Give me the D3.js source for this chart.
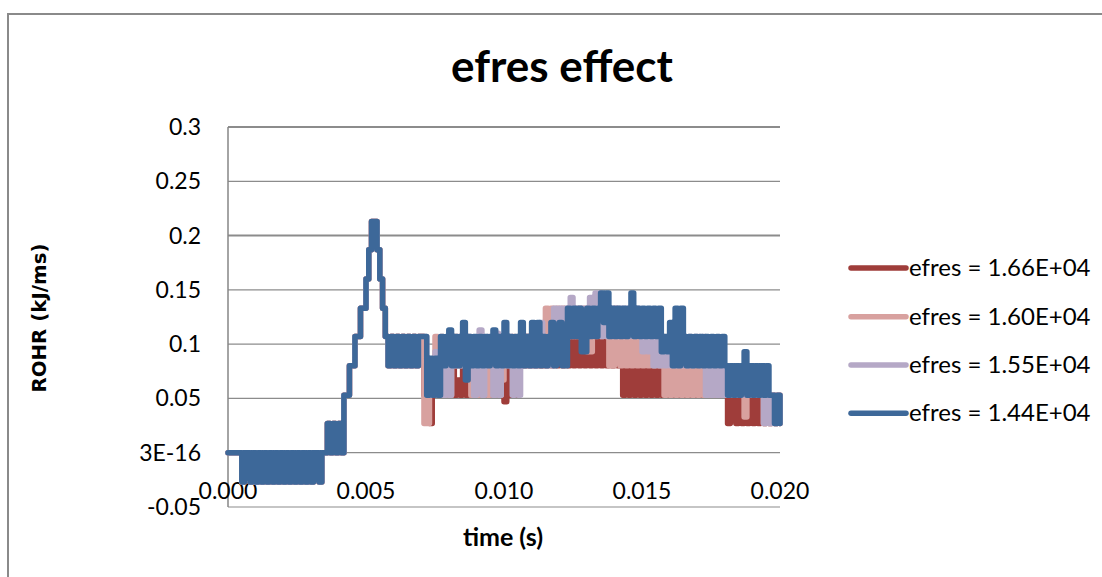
<!DOCTYPE html>
<html>
<head>
<meta charset="utf-8">
<script src="https://cdn.jsdelivr.net/npm/d3@7"></script>
<style>
  html, body { margin: 0; padding: 0; background: #ffffff; }
  svg { display: block; }
  text { font-family: Lato, "Open Sans", sans-serif; fill: #000; }
</style>
</head>
<body>
<svg id="chart" width="1102" height="577"></svg>
<script>
// Rate of heat release sampled every 0.1 ms (201 samples, 0 .. 0.020 s), kJ/ms
const timeStep = 0.0001;

const seriesNames = ["efres = 1.66E+04", "efres = 1.60E+04", "efres = 1.55E+04", "efres = 1.44E+04"];
const seriesColors = ["#9f3d3a", "#d8a19f", "#b5a8c6", "#3d6899"];

// common start (ignition and peak), identical for every run up to 6.9 ms
const rohrStart = [
  0, 0, 0, 0, 0, -0.027, 0, 0, -0.027, 0,
  -0.027, 0, -0.027, 0, -0.027, 0, -0.027, 0, -0.027, 0,
  -0.027, 0, -0.027, 0, -0.027, 0, -0.027, 0, -0.027, 0,
  -0.027, 0, 0, -0.027, 0, 0, 0.027, 0, 0.027, 0,
  0.027, 0, 0.053, 0.053, 0.08, 0.08, 0.107, 0.107, 0.133, 0.133,
  0.16, 0.187, 0.213, 0.213, 0.187, 0.16, 0.133, 0.107, 0.08, 0.107,
  0.08, 0.107, 0.08, 0.107, 0.08, 0.107, 0.08, 0.107, 0.08, 0.107
];

// 7.0 ms .. 20.0 ms
const rohr166 = [
  0.107, 0.053, 0.053, 0.027, 0.053, 0.08, 0.053, 0.08, 0.053, 0.08,
  0.053, 0.08, 0.053, 0.067, 0.053, 0.08, 0.053, 0.08, 0.053, 0.08,
  0.053, 0.08, 0.053, 0.08, 0.053, 0.08, 0.053, 0.08, 0.053, 0.08,
  0.047, 0.08, 0.053, 0.08, 0.053, 0.08, 0.107, 0.08, 0.107, 0.08,
  0.107, 0.08, 0.107, 0.08, 0.107, 0.08, 0.107, 0.08, 0.107, 0.08,
  0.093, 0.08, 0.107, 0.08, 0.107, 0.08, 0.107, 0.08, 0.107, 0.08,
  0.107, 0.08, 0.107, 0.08, 0.107, 0.08, 0.107, 0.08, 0.107, 0.08,
  0.107, 0.08, 0.107, 0.053, 0.08, 0.053, 0.08, 0.053, 0.08, 0.053,
  0.08, 0.053, 0.08, 0.053, 0.08, 0.053, 0.08, 0.053, 0.08, 0.053,
  0.08, 0.053, 0.08, 0.053, 0.08, 0.053, 0.08, 0.053, 0.08, 0.053,
  0.08, 0.053, 0.08, 0.053, 0.08, 0.053, 0.08, 0.053, 0.08, 0.053,
  0.08, 0.027, 0.053, 0.053, 0.027, 0.053, 0.027, 0.053, 0.027, 0.053,
  0.027, 0.053, 0.027, 0.053, 0.027, 0.053, 0.027, 0.053, 0.027, 0.053,
  0.027
];

const rohr160 = [
  0.107, 0.027, 0.027, 0.053, 0.08, 0.107, 0.08, 0.107, 0.053, 0.08,
  0.053, 0.08, 0.107, 0.08, 0.107, 0.08, 0.107, 0.08, 0.053, 0.08,
  0.053, 0.08, 0.053, 0.08, 0.053, 0.08, 0.053, 0.08, 0.053, 0.067,
  0.08, 0.107, 0.08, 0.107, 0.08, 0.107, 0.08, 0.107, 0.08, 0.107,
  0.08, 0.107, 0.08, 0.107, 0.08, 0.133, 0.107, 0.133, 0.107, 0.133,
  0.107, 0.133, 0.107, 0.133, 0.107, 0.133, 0.107, 0.133, 0.107, 0.133,
  0.093, 0.093, 0.133, 0.107, 0.133, 0.107, 0.133, 0.107, 0.08, 0.08,
  0.133, 0.107, 0.08, 0.107, 0.08, 0.107, 0.08, 0.107, 0.08, 0.107,
  0.08, 0.107, 0.08, 0.107, 0.08, 0.107, 0.08, 0.107, 0.053, 0.08,
  0.053, 0.08, 0.053, 0.08, 0.053, 0.08, 0.053, 0.08, 0.053, 0.08,
  0.053, 0.08, 0.053, 0.08, 0.053, 0.08, 0.053, 0.08, 0.053, 0.08,
  0.053, 0.08, 0.053, 0.08, 0.053, 0.08, 0.053, 0.033, 0.053, 0.08,
  0.053, 0.08, 0.053, 0.08, 0.027, 0.053, 0.027, 0.053, 0.027, 0.053,
  0.027
];

const rohr155 = [
  0.107, 0.107, 0.08, 0.053, 0.053, 0.093, 0.053, 0.08, 0.053, 0.08,
  0.053, 0.107, 0.08, 0.107, 0.08, 0.107, 0.08, 0.107, 0.08, 0.053,
  0.08, 0.113, 0.053, 0.08, 0.107, 0.08, 0.053, 0.11, 0.053, 0.08,
  0.107, 0.08, 0.107, 0.053, 0.08, 0.053, 0.107, 0.08, 0.107, 0.08,
  0.107, 0.08, 0.107, 0.12, 0.107, 0.08, 0.107, 0.08, 0.133, 0.107,
  0.133, 0.107, 0.133, 0.107, 0.143, 0.107, 0.133, 0.107, 0.133, 0.107,
  0.133, 0.143, 0.133, 0.147, 0.147, 0.107, 0.133, 0.107, 0.133, 0.107,
  0.133, 0.107, 0.133, 0.107, 0.133, 0.107, 0.133, 0.107, 0.133, 0.107,
  0.093, 0.107, 0.093, 0.107, 0.08, 0.107, 0.08, 0.093, 0.08, 0.093,
  0.08, 0.107, 0.08, 0.107, 0.08, 0.107, 0.08, 0.107, 0.08, 0.107,
  0.107, 0.08, 0.107, 0.053, 0.08, 0.053, 0.08, 0.053, 0.08, 0.053,
  0.08, 0.053, 0.08, 0.053, 0.08, 0.053, 0.08, 0.053, 0.08, 0.053,
  0.08, 0.053, 0.08, 0.053, 0.027, 0.053, 0.027, 0.053, 0.027, 0.053,
  0.027
];

const rohr144 = [
  0.107, 0.107, 0.053, 0.087, 0.053, 0.087, 0.053, 0.107, 0.08, 0.107,
  0.113, 0.08, 0.107, 0.08, 0.107, 0.12, 0.067, 0.107, 0.08, 0.107,
  0.08, 0.107, 0.08, 0.107, 0.08, 0.107, 0.113, 0.08, 0.107, 0.08,
  0.12, 0.08, 0.107, 0.08, 0.107, 0.08, 0.12, 0.08, 0.107, 0.08,
  0.12, 0.08, 0.12, 0.08, 0.107, 0.08, 0.107, 0.12, 0.08, 0.107,
  0.12, 0.08, 0.08, 0.133, 0.107, 0.133, 0.107, 0.133, 0.093, 0.093,
  0.133, 0.107, 0.133, 0.107, 0.133, 0.147, 0.12, 0.147, 0.107, 0.133,
  0.107, 0.133, 0.107, 0.133, 0.107, 0.133, 0.147, 0.107, 0.133, 0.107,
  0.133, 0.107, 0.133, 0.107, 0.133, 0.107, 0.133, 0.093, 0.107, 0.093,
  0.12, 0.08, 0.133, 0.08, 0.133, 0.107, 0.08, 0.107, 0.08, 0.107,
  0.08, 0.107, 0.08, 0.107, 0.08, 0.107, 0.08, 0.107, 0.08, 0.107,
  0.08, 0.053, 0.08, 0.053, 0.08, 0.053, 0.08, 0.093, 0.053, 0.08,
  0.053, 0.08, 0.053, 0.08, 0.053, 0.08, 0.053, 0.053, 0.027, 0.053,
  0.027
];

const yTickValues = [-0.05, 0, 0.05, 0.1, 0.15, 0.2, 0.25, 0.3];
const yTickLabels = ["-0.05", "3E-16", "0.05", "0.1", "0.15", "0.2", "0.25", "0.3"];
const xTickValues = [0, 0.005, 0.01, 0.015, 0.02];
const xTickLabels = ["0.000", "0.005", "0.010", "0.015", "0.020"];

const svg = d3.select("#chart");

const plot = { left: 228, right: 780, top: 127, bottom: 507 };
const x = d3.scaleLinear().domain([0, 0.02]).range([plot.left, plot.right]);
const y = d3.scaleLinear().domain([-0.05, 0.3]).range([plot.bottom, plot.top]);

// chart area border
svg.append("rect")
  .attr("x", 8).attr("y", 14)
  .attr("width", 1110).attr("height", 600)
  .attr("fill", "none").attr("stroke", "#8a8a8a").attr("stroke-width", 2);

// horizontal gridlines
svg.append("g")
  .selectAll("line")
  .data(yTickValues)
  .join("line")
  .attr("x1", plot.left).attr("x2", plot.right)
  .attr("y1", d => y(d)).attr("y2", d => y(d))
  .attr("stroke", "#8c8c8c")
  .attr("stroke-width", d => (d === 0.3 || d === 0.2) ? 2 : 1.2);

// vertical axis line
svg.append("line")
  .attr("x1", plot.left).attr("x2", plot.left)
  .attr("y1", plot.top).attr("y2", plot.bottom)
  .attr("stroke", "#868686").attr("stroke-width", 1.5);

function label(g, tx, ty, str, opts) {
  return g.append("text")
    .attr("x", tx).attr("y", ty)
    .attr("text-anchor", opts.anchor || "start")
    .attr("font-size", opts.size)
    .attr("font-weight", opts.weight || "normal")
    .text(str);
}

// y tick labels
const yLab = svg.append("g");
yTickValues.forEach((v, i) => {
  label(yLab, 201, y(v) + 8, yTickLabels[i], { size: 23, anchor: "end" });
});

// x tick labels
const xLab = svg.append("g");
xTickValues.forEach((v, i) => {
  label(xLab, x(v), 499, xTickLabels[i], { size: 23, anchor: "middle" });
});

// series lines, drawn in legend order so the last run sits on top
const fullSeries = [rohr166, rohr160, rohr155, rohr144].map(tail => rohrStart.concat(tail));
const line = d3.line()
  .x((d, i) => x(i * timeStep))
  .y(d => y(d))
  .curve(d3.curveStepAfter);

svg.append("g")
  .selectAll("path")
  .data(fullSeries)
  .join("path")
  .attr("d", d => line(d))
  .attr("fill", "none")
  .attr("stroke", (d, i) => seriesColors[i])
  .attr("stroke-width", 5.5)
  .attr("stroke-linejoin", "round")
  .attr("stroke-linecap", "round");

// title
label(svg, 562, 82, "efres effect", { size: 44, anchor: "middle", weight: "bold" });

// axis titles
label(svg, 503, 546, "time (s)", { size: 25, anchor: "middle", weight: "bold" });
svg.append("text")
  .attr("transform", "translate(46,318) rotate(-90)")
  .attr("text-anchor", "middle")
  .attr("font-size", 19)
  .attr("font-weight", "bold")
  .style("font-family", "'DejaVu Sans', sans-serif")
  .attr("textLength", 149)
  .attr("lengthAdjust", "spacingAndGlyphs")
  .text("ROHR (kJ/ms)");

// legend
const legend = svg.append("g");
const legendY = [268, 316.7, 365, 413.3];
seriesNames.forEach((name, i) => {
  legend.append("line")
    .attr("x1", 851).attr("x2", 906)
    .attr("y1", legendY[i]).attr("y2", legendY[i])
    .attr("stroke", seriesColors[i]).attr("stroke-width", 5.5)
    .attr("stroke-linecap", "round");
  label(legend, 909, legendY[i] + 8, name, { size: 24 });
});
</script>
</body>
</html>
